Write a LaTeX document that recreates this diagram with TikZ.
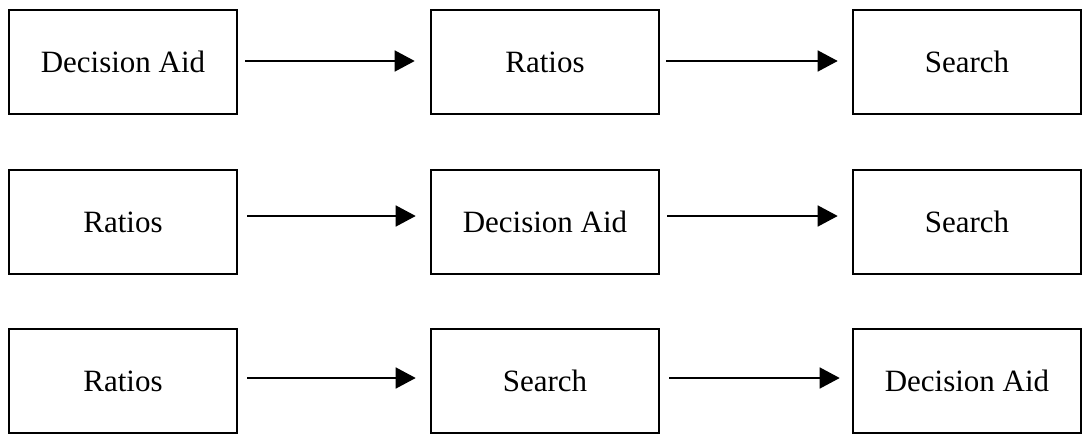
\documentclass[tikz,border=0pt]{standalone}
\usepackage{fontspec}
\setmainfont{Liberation Serif}
\usetikzlibrary{arrows.meta}
\begin{document}
\begin{tikzpicture}[x=1pt,y=-1pt,
  stagebox/.style={draw=black, line width=2.6pt, minimum width=228pt, minimum height=104pt,
    inner sep=0pt, font=\fontsize{31}{36}\selectfont},
  flow/.style={line width=1.5pt, -{Triangle[length=20pt,width=21pt]}}]
\useasboundingbox (0,0) rectangle (1084,436);

% first ordering
\node[stagebox] (a1) at (123,62) {Decision Aid};
\node[stagebox] (b1) at (545,62) {Ratios};
\node[stagebox] (c1) at (967,62) {Search};
% second ordering
\node[stagebox] (a2) at (123,222) {Ratios};
\node[stagebox] (b2) at (545,222) {Decision Aid};
\node[stagebox] (c2) at (967,222) {Search};
% third ordering
\node[stagebox] (a3) at (123,381) {Ratios};
\node[stagebox] (b3) at (545,381) {Search};
\node[stagebox] (c3) at (967,381) {Decision Aid};

% connectors
\draw[flow] ([xshift=7pt,yshift=1pt]a1.east) -- ([xshift=-15pt,yshift=1pt]b1.west);
\draw[flow] ([xshift=6pt,yshift=1pt]b1.east) -- ([xshift=-14pt,yshift=1pt]c1.west);
\draw[flow] ([xshift=9pt,yshift=6pt]a2.east) -- ([xshift=-14pt,yshift=6pt]b2.west);
\draw[flow] ([xshift=7pt,yshift=6pt]b2.east) -- ([xshift=-14pt,yshift=6pt]c2.west);
\draw[flow] ([xshift=9pt,yshift=3pt]a3.east) -- ([xshift=-14pt,yshift=3pt]b3.west);
\draw[flow] ([xshift=9pt,yshift=3pt]b3.east) -- ([xshift=-12pt,yshift=3pt]c3.west);
\end{tikzpicture}
\end{document}
